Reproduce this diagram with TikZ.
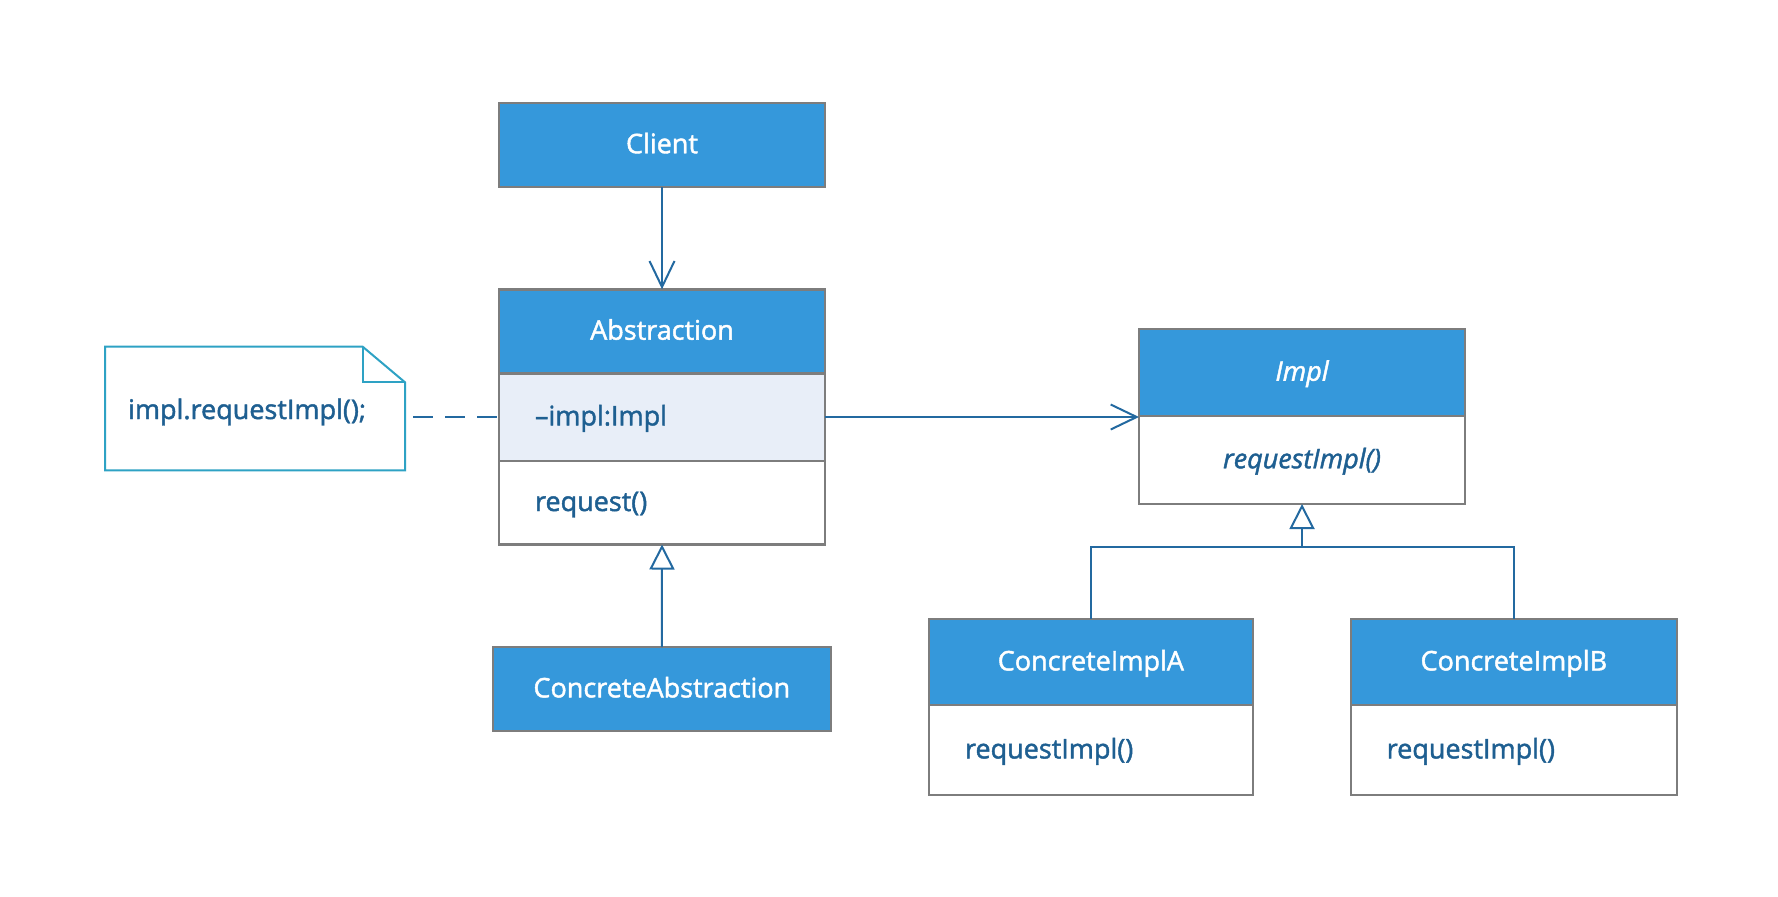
\documentclass[tikz,border=0pt]{standalone}
\usepackage{fontspec}
\setmainfont{Open Sans}[FakeBold=1.6]
\usetikzlibrary{arrows.meta,calc}
\definecolor{hdr}{RGB}{53,152,219}
\definecolor{bord}{RGB}{125,125,125}
\definecolor{conn}{RGB}{35,105,160}
\definecolor{txt}{RGB}{30,95,145}
\definecolor{attrfill}{RGB}{232,238,248}
\definecolor{notec}{RGB}{46,162,196}
\begin{document}
\begin{tikzpicture}[x=0.5pt,y=-0.5pt,
  base/.style={draw=bord, line width=1.2pt, inner sep=0pt, outer sep=0pt,
    font=\fontsize{13.5pt}{16pt}\selectfont, text height=10pt, text depth=1.6pt},
  hd/.style={base, fill=hdr, text=white, align=center},
  cmp/.style={base, fill=white, text=txt},
  lft/.style={align=left, inner xsep=18pt},
  link/.style={draw=conn, line width=1pt},
  assoc/.style={link, -{Straight Barb[length=13pt,width=12.5pt]}},
  gen/.style={link, -{Triangle[open, length=12.5pt,width=12.5pt]}},
  notelink/.style={link, dash pattern=on 10pt off 6pt, shorten <=4pt}
]
\fill[white] (0,0) rectangle (1778,896);
\path[use as bounding box] (0,0) rectangle (1778,896);

% Client
\node[hd, minimum width=163pt, minimum height=42.15pt] (client) at (662,144.85) {Client};

% Abstraction
\node[hd, minimum width=163pt, minimum height=42pt] (absh) at (662,331.3) {Abstraction};
\node[cmp, lft, fill=attrfill, minimum width=163pt, minimum height=43.7pt, text width=127pt] (absa) at (662,417) {\textendash impl:Impl};
\node[cmp, lft, minimum width=163pt, minimum height=41.9pt, text width=127pt] (absm) at (662,502.6) {request()};

% ConcreteAbstraction
\node[hd, minimum width=169.15pt, minimum height=42pt] (cabs) at (661.85,689) {ConcreteAbstraction};

% Impl
\node[hd, minimum width=163pt, minimum height=43.35pt] (implh) at (1302,372.35) {\itshape Impl};
\node[cmp, align=center, minimum width=163pt, minimum height=44.15pt] (implm) at (1302,459.85) {\itshape requestImpl()};

% ConcreteImplA
\node[hd, minimum width=161.85pt, minimum height=43pt] (ciah) at (1090.85,662) {ConcreteImplA};
\node[cmp, lft, minimum width=161.85pt, minimum height=45pt, text width=125.85pt] (ciam) at (1090.85,750) {requestImpl()};

% ConcreteImplB
\node[hd, minimum width=163.15pt, minimum height=43pt] (cibh) at (1513.85,662) {ConcreteImplB};
\node[cmp, lft, minimum width=163.15pt, minimum height=45pt, text width=127.15pt] (cibm) at (1513.85,750) {requestImpl()};

% Note
\node[minimum width=150pt, minimum height=61.8pt, inner sep=0pt, outer sep=0pt] (note) at (255,408.5) {};
\draw[notec, line width=1pt, line join=miter]
  (note.north west) -- ($(note.north east)+(-42.3,0)$) -- ($(note.north east)+(0,35.6)$)
  -- (note.south east) -- (note.south west) -- cycle;
\draw[notec, line width=1pt, line join=miter]
  ($(note.north east)+(-42.3,0)$) -- ++(0,35.6) -- ++(42.3,0);
\node[anchor=base west, inner sep=0pt, text=txt, font=\fontsize{13.5pt}{16pt}\selectfont] (notetext) at (127.7,419) {impl.requestImpl();};

% Connectors
\draw[assoc] (client.south) -- (absh.north);
\draw[assoc] (absa.east) -- (absa.east -| implh.west);
\draw[gen] (cabs.north) -- (absm.south);
\coordinate (junc) at ($(implm.south)+(0,42.7)$);
\draw[link] (ciah.north) |- (junc) -| (cibh.north);
\draw[gen] (junc) -- (implm.south);
\draw[notelink] (absa.west -| note.east) -- (absa.west);
\end{tikzpicture}
\end{document}
